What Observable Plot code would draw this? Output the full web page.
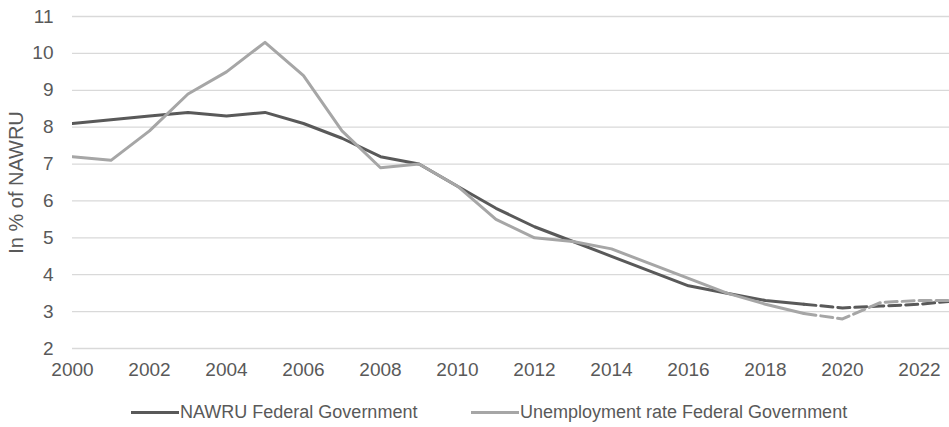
<!DOCTYPE html>
<html>
<head>
<meta charset="utf-8">
<script src="https://cdn.jsdelivr.net/npm/d3@7"></script>
<script src="https://cdn.jsdelivr.net/npm/@observablehq/plot@0.6"></script>
<style>
  body { margin: 0; background: #fff; font-family: "Liberation Sans", Arial, sans-serif; }
  #chart svg { display: block; }
  #legend { position: relative; height: 37px; width: 949px; color: #595959; font-size: 18px; }
  .item { position: absolute; top: 12px; display: flex; align-items: center; line-height: 20px; white-space: nowrap; }
  .swatch { display: inline-block; width: 48px; height: 3px; margin-right: 1px; }
</style>
</head>
<body>
<div id="chart"></div>
<div id="legend"></div>
<script>
// Annual values, in % of NAWRU; from 2019 on the lines are projections (dashed)
const years = [2000, 2001, 2002, 2003, 2004, 2005, 2006, 2007, 2008, 2009, 2010, 2011,
               2012, 2013, 2014, 2015, 2016, 2017, 2018, 2019, 2020, 2021, 2022, 2023];
const nawru = [8.1, 8.2, 8.3, 8.4, 8.3, 8.4, 8.1, 7.7, 7.2, 7.0, 6.4, 5.8,
               5.3, 4.9, 4.5, 4.1, 3.7, 3.5, 3.3, 3.2, 3.1, 3.15, 3.2, 3.3];
const unemployment = [7.2, 7.1, 7.9, 8.9, 9.5, 10.3, 9.4, 7.9, 6.9, 7.0, 6.4, 5.5,
                      5.0, 4.9, 4.7, 4.3, 3.9, 3.5, 3.2, 2.95, 2.8, 3.25, 3.3, 3.3];
const seriesNames = ["NAWRU Federal Government", "Unemployment rate Federal Government"];
const seriesColors = ["#595959", "#a6a6a6"];
const yTicks = [2, 3, 4, 5, 6, 7, 8, 9, 10, 11];
const xTicks = [2000, 2002, 2004, 2006, 2008, 2010, 2012, 2014, 2016, 2018, 2020, 2022];
const projectionStart = 2019;

const rows = years.flatMap((year, i) => [
  {year, value: nawru[i], series: seriesNames[0]},
  {year, value: unemployment[i], series: seriesNames[1]}
]);
const actual = rows.filter(d => d.year <= projectionStart);
const projected = rows.filter(d => d.year >= projectionStart);

const font = "'Liberation Sans', Arial, sans-serif";
const textColor = "#595959";

const chart = Plot.plot({
  width: 949,
  height: 390,
  marginLeft: 72,
  marginRight: 0,
  marginTop: 16,
  marginBottom: 42,
  style: {fontFamily: font, fontSize: "19px", color: textColor, background: "#fff"},
  x: {domain: [2000, 2022.78]},
  y: {domain: [2, 11]},
  color: {domain: seriesNames, range: seriesColors},
  marks: [
    Plot.gridY(yTicks, {stroke: "#d9d9d9", strokeOpacity: 1, strokeWidth: 1.3}),
    Plot.axisY(yTicks, {
      tickSize: 0, tickPadding: 19, fontSize: 19, fill: textColor,
      label: null
    }),
    Plot.axisY({
      ticks: [], tickSize: 0, fontSize: 20, fill: textColor,
      label: "In % of NAWRU", labelAnchor: "center", labelArrow: "none", labelOffset: 64
    }),
    Plot.axisX(xTicks, {
      tickSize: 0, tickPadding: 14, fontSize: 19, fill: textColor,
      label: null, tickFormat: d => String(d)
    }),
    Plot.line(actual, {
      x: "year", y: "value", z: "series", stroke: "series",
      strokeWidth: 3, strokeLinejoin: "round", clip: true
    }),
    Plot.line(projected, {
      x: "year", y: "value", z: "series", stroke: "series",
      strokeWidth: 3, strokeDasharray: "12,5", clip: true
    })
  ]
});
document.getElementById("chart").append(chart);

// Line-swatch legend below the chart
const legend = document.getElementById("legend");
const lefts = [131, 471];
seriesNames.forEach((name, i) => {
  const item = document.createElement("div");
  item.className = "item";
  item.style.left = lefts[i] + "px";
  const sw = document.createElement("span");
  sw.className = "swatch";
  sw.style.background = seriesColors[i];
  item.append(sw, document.createTextNode(name));
  legend.append(item);
});
</script>
</body>
</html>
